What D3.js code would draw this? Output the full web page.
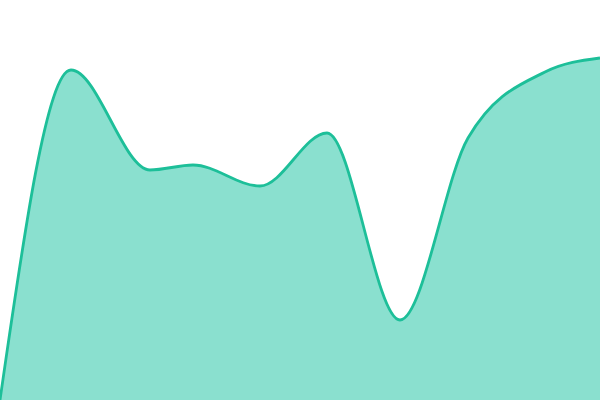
<!DOCTYPE html>
<html>
<head>
<meta charset="utf-8">
<script src="https://cdn.jsdelivr.net/npm/d3@7"></script>
<style>
  body { margin: 0; background: #fff; }
</style>
</head>
<body>
<svg id="chart" width="600" height="400"></svg>
<script>
// sample positions (0-600) and values (height above the bottom)
const positions = [0, 71, 150, 193, 260, 327, 400, 468, 545, 600];
const values = [0, 330, 230, 235, 214, 267, 80, 262, 328, 342];

const width = 600, height = 400;
const svg = d3.select("#chart");

const x = d3.scaleLinear().domain([0, 600]).range([0, width]);
const y = d3.scaleLinear().domain([0, 400]).range([height, 0]);

const data = positions.map((p, i) => ({ p: p, v: values[i] }));

const area = d3.area()
    .x(d => x(d.p))
    .y0(height)
    .y1(d => y(d.v))
    .curve(d3.curveMonotoneX);

const line = d3.line()
    .x(d => x(d.p))
    .y(d => y(d.v))
    .curve(d3.curveMonotoneX);

svg.append("path")
    .datum(data)
    .attr("d", area)
    .attr("fill", "#8ae0cf");

svg.append("path")
    .datum(data)
    .attr("d", line)
    .attr("fill", "none")
    .attr("stroke", "#1dbf99")
    .attr("stroke-width", 2.8);
</script>
</body>
</html>
